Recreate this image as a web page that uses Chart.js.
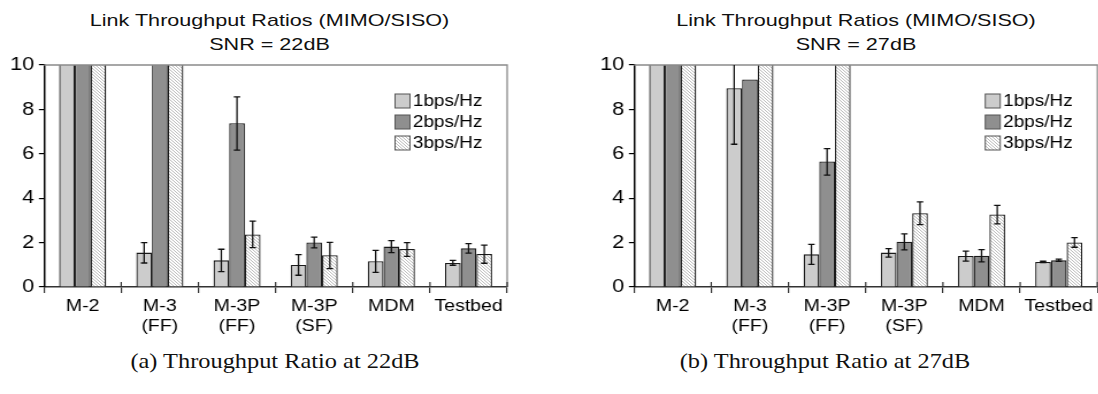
<!DOCTYPE html>
<html>
<head>
<meta charset="utf-8">
<script src="https://cdn.jsdelivr.net/npm/chart.js@4.4.0/dist/chart.umd.min.js"></script>
<style>
  body { margin: 0; background: #fff; width: 1098px; height: 394px; overflow: hidden; position: relative; }
  .wrap { position: absolute; top: 0; transform-origin: 0 0; transform: scaleX(1.15); }
  .ttl { position: absolute; top: 9px; text-align: center; font-family: "Liberation Sans", Arial, sans-serif;
         font-size: 17px; line-height: 24px; color: #111; transform: scaleX(1.27); }
  .cap { position: absolute; top: 349px; text-align: center; font-family: "Liberation Serif", serif;
         font-size: 21px; line-height: 24px; color: #111; transform: scaleX(1.16); }
</style>
</head>
<body>
<div class="ttl" style="left:0;width:539px">Link Throughput Ratios (MIMO/SISO)<br>SNR = 22dB</div>
<div class="ttl" style="left:614px;width:484px">Link Throughput Ratios (MIMO/SISO)<br>SNR = 27dB</div>
<div class="wrap" style="left:0"><canvas id="chart22" width="477" height="345"></canvas></div>
<div class="wrap" style="left:590px"><canvas id="chart27" width="442" height="345"></canvas></div>
<div class="cap" style="left:0;width:550px">(a) Throughput Ratio at 22dB</div>
<div class="cap" style="left:550px;width:550px">(b) Throughput Ratio at 27dB</div>

<script>
const categories = [['M-2'], ['M-3', '(FF)'], ['M-3P', '(FF)'], ['M-3P', '(SF)'], ['MDM'], ['Testbed']];
const seriesNames = ['1bps/Hz', '2bps/Hz', '3bps/Hz'];

// SNR = 22dB  (values above 10 run off the top of the plot)
const r22_1 = [15, 1.55, 1.20, 0.99, 1.16, 1.08];
const r22_2 = [15, 15, 7.38, 2.01, 1.82, 1.74];
const r22_3 = [15, 15, 2.37, 1.43, 1.71, 1.49];
const r22_1lo = [null, 1.08, 0.69, 0.53, 0.66, 0.98];
const r22_1hi = [null, 2.00, 1.70, 1.46, 1.65, 1.20];
const r22_2lo = [null, null, 6.17, 1.76, 1.55, 1.53];
const r22_2hi = [null, null, 8.56, 2.25, 2.09, 1.95];
const r22_3lo = [null, null, 1.77, 0.83, 1.38, 1.07];
const r22_3hi = [null, null, 2.97, 2.01, 2.00, 1.89];

// SNR = 27dB
const r27_1 = [15, 8.95, 1.47, 1.55, 1.40, 1.13];
const r27_2 = [15, 9.35, 5.65, 2.04, 1.41, 1.20];
const r27_3 = [15, 15, 15, 3.32, 3.27, 2.01];
const r27_1lo = [null, 6.43, 1.02, 1.35, 1.17, 1.10];
const r27_1hi = [null, 11.5, 1.92, 1.73, 1.62, 1.16];
const r27_2lo = [null, null, 5.04, 1.67, 1.13, 1.16];
const r27_2hi = [null, null, 6.23, 2.39, 1.68, 1.26];
const r27_3lo = [null, null, null, 2.81, 2.84, 1.79];
const r27_3hi = [null, null, null, 3.83, 3.68, 2.22];

const FONT = '"Liberation Sans", Arial, sans-serif';

// diagonal hatch for the 3bps bars
function makeHatch() {
    const c = document.createElement('canvas');
    c.width = 3; c.height = 3;
    const g = c.getContext('2d');
    g.fillStyle = '#fff';
    g.fillRect(0, 0, 3, 3);
    g.strokeStyle = '#b4b4b4';
    g.lineWidth = 0.9;
    g.beginPath();
    g.moveTo(-1, -1); g.lineTo(4, 4);
    g.moveTo(-1, 2); g.lineTo(1, 4);
    g.moveTo(2, -1); g.lineTo(4, 1);
    g.stroke();
    return g.createPattern(c, 'repeat');
}
const hatch = makeHatch();
const fills = ['#cccccc', '#8f8f8f', hatch];

// gray frame on top/right + little tick stubs above the x axis
const framePlugin = {
    id: 'frame',
    afterDatasetsDraw(chart) {
        const a = chart.chartArea, ctx = chart.ctx;
        ctx.save();
        ctx.strokeStyle = '#8a8a8a';
        ctx.lineWidth = 1.3;
        ctx.beginPath();
        ctx.moveTo(a.left, a.top);
        ctx.lineTo(a.right, a.top);
        ctx.lineTo(a.right, a.bottom);
        ctx.stroke();
        ctx.strokeStyle = '#333';
        ctx.lineWidth = 1.2;
        const n = chart.data.labels.length;
        ctx.beginPath();
        for (let i = 1; i <= n; i++) {
            const x = a.left + i * (a.right - a.left) / n;
            ctx.moveTo(x, a.bottom);
            ctx.lineTo(x, a.bottom - 5);
        }
        ctx.stroke();
        ctx.restore();
    }
};

const errorBarPlugin = {
    id: 'errorBars',
    afterDatasetsDraw(chart) {
        const ctx = chart.ctx, y = chart.scales.y, a = chart.chartArea;
        ctx.save();
        ctx.beginPath();
        ctx.rect(a.left, a.top, a.right - a.left, a.bottom - a.top);
        ctx.clip();
        ctx.strokeStyle = '#111';
        ctx.lineWidth = 1.3;
        chart.data.datasets.forEach((ds, i) => {
            const meta = chart.getDatasetMeta(i);
            meta.data.forEach((bar, j) => {
                const lo = ds.errLo[j], hi = ds.errHi[j];
                if (lo == null || hi == null) return;
                const y0 = y.getPixelForValue(lo), y1 = y.getPixelForValue(hi);
                ctx.beginPath();
                ctx.moveTo(bar.x, y0); ctx.lineTo(bar.x, y1);
                ctx.moveTo(bar.x - 2.8, y0); ctx.lineTo(bar.x + 2.8, y0);
                ctx.moveTo(bar.x - 2.8, y1); ctx.lineTo(bar.x + 2.8, y1);
                ctx.stroke();
            });
        });
        ctx.restore();
    }
};

// legend drawn inside the plot, upper right
const innerLegend = {
    id: 'innerLegend',
    afterDraw(chart) {
        const a = chart.chartArea, ctx = chart.ctx;
        ctx.save();
        ctx.font = '16.5px ' + FONT;
        ctx.textBaseline = 'middle';
        chart.data.datasets.forEach((ds, i) => {
            const bx = a.right - 97.5, by = a.top + 29 + i * 21;
            ctx.fillStyle = ds.backgroundColor;
            ctx.fillRect(bx, by, 13, 14);
            ctx.strokeStyle = '#555';
            ctx.lineWidth = 1;
            ctx.strokeRect(bx, by, 13, 14);
            ctx.fillStyle = '#000';
            ctx.fillText(ds.label, bx + 15.5, by + 7.5);
        });
        ctx.restore();
    }
};

function makeChart(id, values, lows, highs, rightPad) {
    const datasets = values.map((v, i) => ({
        label: seriesNames[i],
        data: v,
        errLo: lows[i],
        errHi: highs[i],
        backgroundColor: fills[i],
        borderColor: '#1a1a1a',
        borderWidth: 1.3,
        clip: 0,
        categoryPercentage: 0.61,
        barPercentage: 1.0
    }));
    return new Chart(document.getElementById(id), {
        type: 'bar',
        data: { labels: categories, datasets: datasets },
        plugins: [framePlugin, errorBarPlugin, innerLegend],
        options: {
            responsive: false,
            animation: false,
            layout: { padding: { top: 65, right: rightPad, left: 0, bottom: 0 } },
            plugins: {
                legend: { display: false },
                tooltip: { enabled: false }
            },
            scales: {
                x: {
                    grid: { offset: true, drawOnChartArea: false, tickLength: 6, color: '#333', lineWidth: 1.2 },
                    border: { color: '#333', width: 1.5 },
                    ticks: { color: '#000', font: { family: FONT, size: 17 }, padding: 3, maxRotation: 0, autoSkip: false },
                    afterFit: s => { s.height = 58; }
                },
                y: {
                    min: 0,
                    max: 10,
                    ticks: { stepSize: 2, color: '#000', font: { family: FONT, size: 19 }, padding: 4 },
                    grid: { drawOnChartArea: false, tickLength: 4.5, color: '#000', lineWidth: 1.2 },
                    border: { color: '#000', width: 1.5 },
                    afterFit: s => { s.width = 38.3; }
                }
            }
        }
    });
}

makeChart('chart22', [r22_1, r22_2, r22_3], [r22_1lo, r22_2lo, r22_3lo], [r22_1hi, r22_2hi, r22_3hi], 36);
makeChart('chart27', [r27_1, r27_2, r27_3], [r27_1lo, r27_2lo, r27_3lo], [r27_1hi, r27_2hi, r27_3hi], 0.8);
</script>
</body>
</html>
